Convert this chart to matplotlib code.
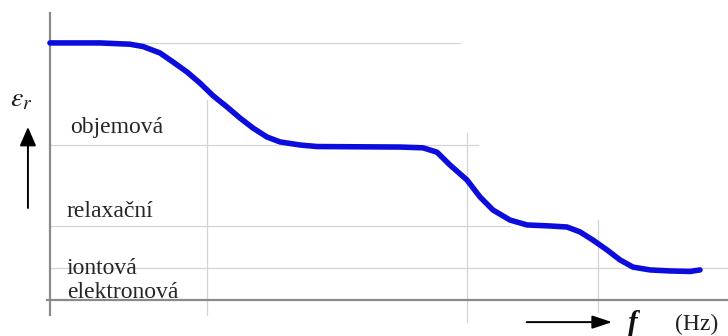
import matplotlib
matplotlib.use("Agg")
import matplotlib.pyplot as plt

plt.rcParams["mathtext.fontset"] = "stix"

# Curve (x: log-frequency arbitrary units, y: relative permittivity arbitrary units)
curve_x = [0.00, 0.737, 1.180, 1.372, 1.622, 1.814, 2.021, 2.212, 2.404, 2.611,
           2.802, 2.994, 3.201, 3.392, 3.687, 3.938, 5.162, 5.501, 5.708, 5.900,
           6.150, 6.342, 6.534, 6.785, 7.035, 7.375, 7.625, 7.817, 8.009, 8.215,
           8.407, 8.599, 8.850, 9.145, 9.440, 9.587]
curve_y = [10.0, 10.0, 9.95, 9.86, 9.61, 9.26, 8.87, 8.44, 7.95, 7.51,
           7.08, 6.69, 6.34, 6.15, 6.03, 5.97, 5.95, 5.92, 5.75, 5.25,
           4.67, 4.01, 3.50, 3.11, 2.92, 2.88, 2.84, 2.65, 2.33, 1.95,
           1.56, 1.28, 1.17, 1.13, 1.11, 1.17]

# Reference levels and their horizontal extents
level_y = [10.0, 6.03, 2.88, 1.25]
level_x_end = [6.05, 6.31, 6.78, 10.0]

# Reference frequencies and their vertical extents
freq_x = [2.32, 6.15, 8.08]
freq_y_lo = [-0.58, -0.86, -0.47]
freq_y_hi = [7.78, 6.50, 3.11]

labels = ["objemová", "relaxační", "iontová", "elektronová"]
label_x = [0.30, 0.25, 0.25, 0.25]
label_y = [6.50, 3.23, 1.01, 0.08]

fig = plt.figure(figsize=(7.28, 3.36), dpi=100)
ax = fig.add_axes([0, 0, 1, 1])
ax.set_xlim(-0.737, 10.0)
ax.set_ylim(-1.40, 11.67)
ax.axis("off")

grid_c = "#d4d4d4"
for y, xe in zip(level_y, level_x_end):
    ax.plot([0, xe], [y, y], color=grid_c, lw=0.9, zorder=1)
for x, lo, hi in zip(freq_x, freq_y_lo, freq_y_hi):
    ax.plot([x, x], [lo, hi], color=grid_c, lw=0.9, zorder=1)

# axes lines
ax.plot([0, 0], [-0.58, 11.17], color="#8a8a8a", lw=1.6, zorder=2)
ax.plot([-0.05, 10.0], [0, 0], color="#8a8a8a", lw=1.6, zorder=2)

ax.plot(curve_x, curve_y, color="#0c0cdc", lw=4.0, solid_capstyle="round",
        solid_joinstyle="round", zorder=3)

serif = ["Liberation Serif", "DejaVu Serif"]
for t, x, y in zip(labels, label_x, label_y):
    ax.text(x, y, t, fontsize=17, family=serif, color="#262626",
            va="baseline", ha="left", zorder=4)

ax.text(-0.42, 7.85, r"$\varepsilon_r$", fontsize=20,
        ha="center", va="center", color="#1a1a1a")
ax.annotate("", xy=(-0.325, 6.73), xytext=(-0.325, 3.58),
            arrowprops=dict(arrowstyle="-|>,head_width=0.5,head_length=1.15",
                            color="black", lw=1.4, shrinkA=0, shrinkB=0))

ax.annotate("", xy=(8.29, -0.86), xytext=(7.03, -0.86),
            arrowprops=dict(arrowstyle="-|>,head_width=0.4,head_length=1.2",
                            color="black", lw=1.4, shrinkA=0, shrinkB=0))
ax.text(8.60, -0.92, "f", fontsize=21, family=serif, style="italic",
        weight="bold", ha="center", va="center", color="#111111")
ax.text(9.53, -0.95, "(Hz)", fontsize=17, family=serif, ha="center",
        va="center", color="#222222")

fig.savefig("out.png", dpi=100)
